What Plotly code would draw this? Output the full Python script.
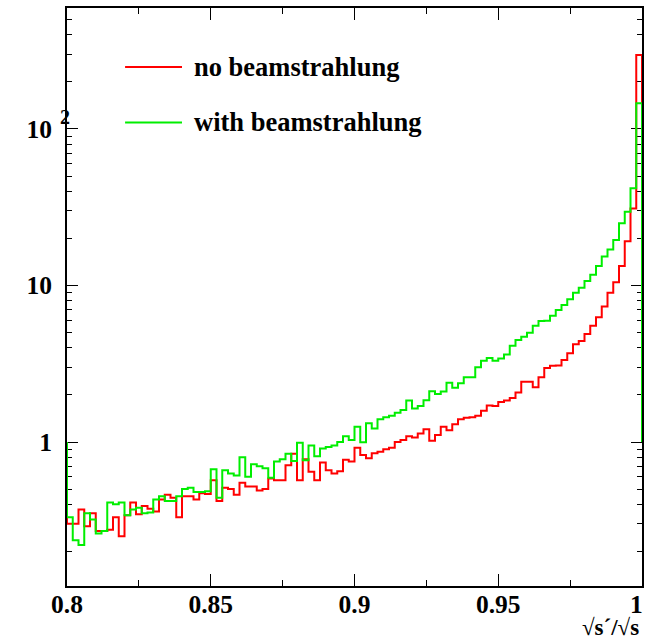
import numpy as np
import plotly.graph_objects as go

# Histogram binning: 100 bins of sqrt(s')/sqrt(s) between 0.8 and 1.0
x_low = 0.8
x_high = 1.0
n_bins = 100

# Bin contents (per bin), without and with beamstrahlung
no_beamstrahlung = [
    0.30, 0.30, 0.37, 0.29, 0.35, 0.27, 0.27, 0.275, 0.33, 0.25,
    0.34, 0.41, 0.345, 0.39, 0.375, 0.36, 0.43, 0.46, 0.44, 0.33,
    0.45, 0.45, 0.43, 0.47, 0.465, 0.57, 0.42, 0.51, 0.50, 0.46,
    0.55, 0.52, 0.52, 0.49, 0.50, 0.585, 0.57, 0.57, 0.71, 0.84,
    0.57, 0.775, 0.646, 0.57, 0.74, 0.66, 0.63, 0.65, 0.77, 0.75,
    0.92, 0.826, 0.787, 0.847, 0.867, 0.90, 0.92, 1.0, 1.03, 1.09,
    1.07, 1.135, 1.205, 1.02, 1.11, 1.25, 1.19, 1.30, 1.40, 1.43,
    1.44, 1.47, 1.585, 1.71, 1.70, 1.80, 1.84, 1.91, 2.07, 2.43,
    2.43, 2.24, 2.59, 2.97, 3.07, 3.08, 3.34, 3.69, 4.21, 4.42,
    4.90, 5.54, 6.26, 7.33, 9.0, 10.5, 13.3, 19.2, 31.0, 297.0,
]
with_beamstrahlung = [
    0.33, 0.236, 0.22, 0.35, 0.32, 0.26, 0.27, 0.41, 0.40, 0.41,
    0.34, 0.37, 0.38, 0.35, 0.355, 0.43, 0.45, 0.42, 0.42, 0.45,
    0.50, 0.51, 0.48, 0.48, 0.485, 0.67, 0.44, 0.66, 0.63, 0.61,
    0.80, 0.60, 0.72, 0.70, 0.68, 0.59, 0.75, 0.775, 0.84, 0.755,
    0.99, 0.765, 0.95, 0.81, 0.91, 0.93, 0.95, 1.0, 1.09, 1.03,
    1.25, 0.995, 1.32, 1.22, 1.40, 1.44, 1.47, 1.54, 1.60, 1.84,
    1.64, 1.70, 1.85, 2.11, 2.03, 2.10, 2.39, 2.22, 2.37, 2.59,
    2.59, 3.0, 3.31, 3.44, 3.31, 3.42, 3.63, 4.12, 4.48, 4.71,
    4.99, 5.53, 5.93, 5.96, 6.41, 6.97, 7.50, 8.16, 9.0, 9.68,
    10.7, 11.7, 13.3, 15.3, 17.0, 19.5, 25.0, 29.6, 41.8, 146.0,
]

series_names = ["no beamstrahlung", "with beamstrahlung"]
series_colors = ["#ff0000", "#00ee00"]

# Axis ticks; the label at the right end of the x axis is placed separately so it stays on the page
x_tick_vals = [0.8, 0.85, 0.9, 0.95, 1.0]
x_tick_text = ["0.8", "0.85", "0.9", "0.95", ""]
x_end_label = "1"
y_tick_vals = [1, 10, 100]
y_tick_text = ["1", "10", "10"]
x_title = "√s´/√s"

outline_base = 1.0  # level the outer edges of the histogram outline drop to

edges = np.linspace(x_low, x_high, n_bins + 1)


def step_outline(values):
    """Histogram outline as an 'hv' polyline, closed to the base level at both ends."""
    v = np.asarray(values, dtype=float)
    xs = np.concatenate([[edges[0]], edges[:-1], [edges[-1], edges[-1]]])
    ys = np.concatenate([[outline_base], v, [v[-1], outline_base]])
    return xs, ys


fig = go.Figure()
for vals, name, col in zip([no_beamstrahlung, with_beamstrahlung], series_names, series_colors):
    xs, ys = step_outline(vals)
    fig.add_trace(go.Scatter(
        x=xs, y=ys, mode="lines", name=name,
        line=dict(color=col, width=2, shape="hv"),
        showlegend=False, hoverinfo="skip", cliponaxis=False,
    ))

serif = "Liberation Serif"
tick_font = dict(family=serif, size=25.5, color="black", weight="bold")

# minor ticks on the log axis: 2..9 in every decade
y_minor = [m * 10.0 ** d for d in (-1, 0, 1, 2) for m in range(2, 10)]

eps = 1e-9
fig.update_layout(
    width=646, height=640,
    margin=dict(l=67, r=4, t=8, b=54, autoexpand=False),
    paper_bgcolor="white", plot_bgcolor="white",
    showlegend=False,
    xaxis=dict(
        range=[x_low - eps, x_high + eps],
        tickmode="array", tickvals=x_tick_vals, ticktext=x_tick_text,
        ticks="inside", ticklen=12, tickwidth=1, tickcolor="black",
        minor=dict(dtick=0.025, tick0=0.8, ticks="inside", ticklen=6, tickwidth=1, tickcolor="black"),
        showline=True, linecolor="black", linewidth=2, mirror="ticks",
        showgrid=False, zeroline=False, automargin=False,
        tickfont=tick_font, ticklabelstandoff=-6, ticklabeloverflow="allow",
        layer="below traces",
    ),
    yaxis=dict(
        type="log",
        range=[-0.920, 2.773],
        tickmode="array", tickvals=y_tick_vals, ticktext=y_tick_text,
        ticks="inside", ticklen=11, tickwidth=1, tickcolor="black",
        minor=dict(tickmode="array", tickvals=y_minor, ticks="inside", ticklen=5, tickwidth=1, tickcolor="black"),
        showline=True, linecolor="black", linewidth=2, mirror="ticks",
        showgrid=False, zeroline=False, automargin=False,
        tickfont=tick_font, ticklabelstandoff=8, ticklabeloverflow="allow",
        layer="below traces",
    ),
)

# label of the last x tick, kept flush with the right edge of the page
fig.add_annotation(
    x=x_high, xref="x", y=0, yref="paper", text=x_end_label, showarrow=False,
    xanchor="right", yanchor="middle", xshift=3, yshift=-18,
    font=tick_font,
)

# exponent of the 10^2 label
fig.add_annotation(
    x=0, xref="paper", y=2, yref="y", text="2", showarrow=False,
    xanchor="left", yanchor="middle", xshift=-9, yshift=12,
    font=dict(family=serif, size=20, color="black", weight="bold"),
)

# axis title at the right end of the x axis
fig.add_annotation(
    x=1, xref="paper", y=0, yref="paper", text=x_title, showarrow=False,
    xanchor="right", yanchor="middle", yshift=-41, xshift=-1,
    font=dict(family=serif, size=23, color="black", weight="bold"),
)

# legend: line samples and labels
legend_rows = [0.898, 0.802]
for name, col, yrow in zip(series_names, series_colors, legend_rows):
    fig.add_shape(type="line", xref="paper", yref="paper",
                  x0=0.101, x1=0.200, y0=yrow, y1=yrow,
                  line=dict(color=col, width=2))
    fig.add_annotation(x=0.218, xref="paper", y=yrow, yref="paper", text=name,
                       showarrow=False, xanchor="left", yanchor="middle",
                       font=dict(family=serif, size=26.5, color="black", weight="bold"))

fig.write_html("out.html")
